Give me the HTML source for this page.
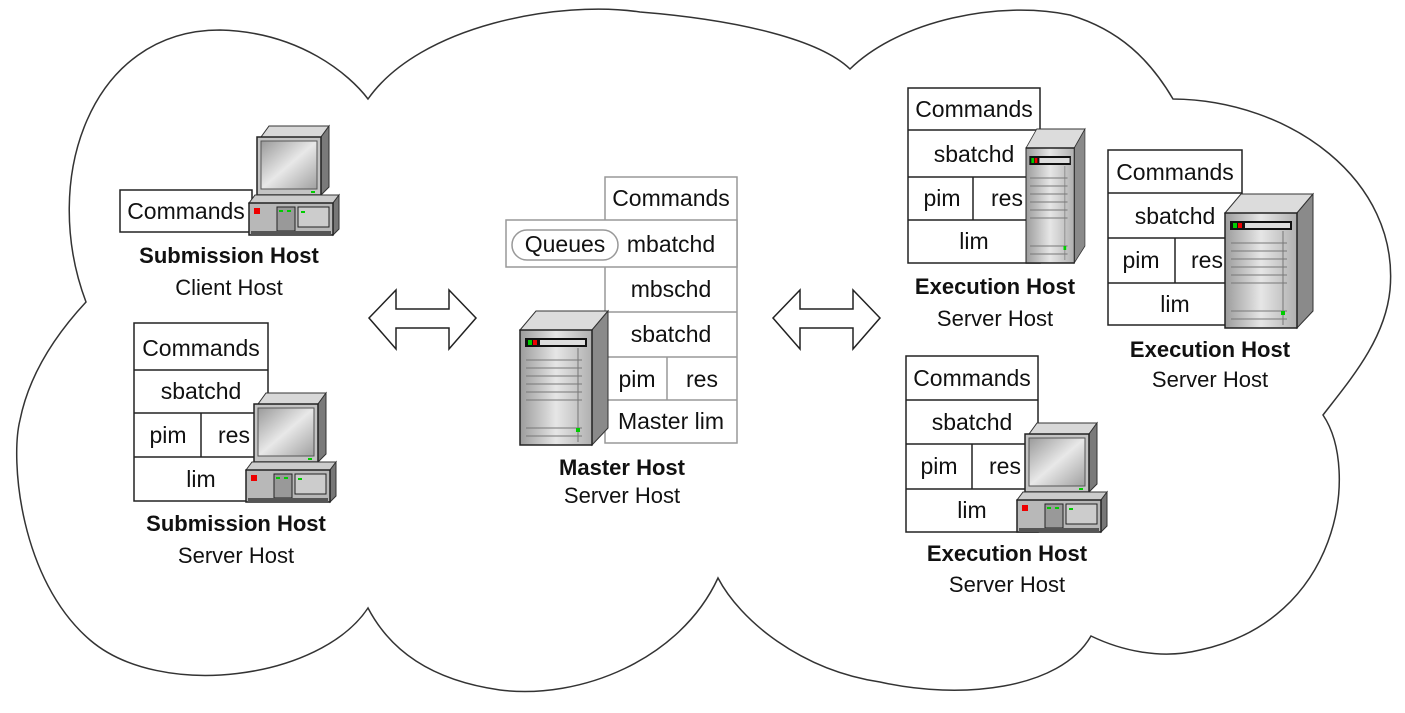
<!DOCTYPE html>
<html><head><meta charset="utf-8"><style>
html,body{margin:0;padding:0;background:#fff;}
svg{display:block;}
text{font-family:"Liberation Sans",Arial,sans-serif;fill:#111;}
.t{font-size:23px;text-anchor:middle;}
.lb{font-size:22px;font-weight:bold;text-anchor:middle;}
.ln{font-size:22px;text-anchor:middle;}
</style></head><body>
<svg width="1405" height="713" viewBox="0 0 1405 713" xmlns="http://www.w3.org/2000/svg">
<defs>
<linearGradient id="scr" x1="0" y1="0" x2="1" y2="1"><stop offset="0" stop-color="#9a9a9a"/><stop offset="0.5" stop-color="#e8e8e8"/><stop offset="1" stop-color="#a0a0a0"/></linearGradient>
<linearGradient id="tw" x1="0" y1="0" x2="1" y2="0"><stop offset="0" stop-color="#9c9c9c"/><stop offset="0.5" stop-color="#e6e6e6"/><stop offset="1" stop-color="#b0b0b0"/></linearGradient>
<g id="pc">
<polygon points="12,12 20,1 80,1 72,12" fill="#d8d8d8" stroke="#333"/>
<polygon points="72,12 80,1 80,62 72,70" fill="#7a7a7a" stroke="#333"/>
<rect x="8" y="12" width="64" height="58" fill="#c4c4c4" stroke="#222" stroke-width="1.5"/>
<rect x="12" y="16" width="56" height="48" fill="url(#scr)" stroke="#555"/>
<rect x="62" y="66" width="4" height="2" fill="#0c0"/>
<polygon points="0,78 6,70 90,70 84,78" fill="#ccc" stroke="#333"/>
<polygon points="84,78 90,70 90,104 84,110" fill="#777" stroke="#333"/>
<rect x="0" y="78" width="84" height="32" fill="#b8b8b8" stroke="#222" stroke-width="1.5"/>
<rect x="5" y="83" width="6" height="6" fill="#e00"/>
<rect x="28" y="82" width="18" height="24" fill="#999" stroke="#222"/>
<rect x="30" y="85" width="4" height="2" fill="#0c0"/><rect x="38" y="85" width="4" height="2" fill="#0c0"/>
<rect x="49" y="82" width="31" height="20" fill="#ccc" stroke="#222"/>
<rect x="52" y="86" width="4" height="2" fill="#0c0"/>
<rect x="2" y="106" width="80" height="4" fill="#555"/>
</g>
<g id="tower">
<polygon points="0,20 16,1 88,1 72,20" fill="#dcdcdc" stroke="#333"/>
<polygon points="72,20 88,1 88,118 72,135" fill="#8a8a8a" stroke="#333"/>
<rect x="0" y="20" width="72" height="115" fill="url(#tw)" stroke="#222" stroke-width="1.5"/>
<rect x="5" y="28" width="62" height="9" fill="#111"/>
<rect x="20" y="30" width="45" height="5" fill="#ddd"/>
<rect x="8" y="30" width="4" height="5" fill="#0c0"/><rect x="13" y="30" width="4" height="5" fill="#e00"/>
<g stroke="#777"><line x1="6" y1="50" x2="62" y2="50"/><line x1="6" y1="58" x2="62" y2="58"/><line x1="6" y1="66" x2="62" y2="66"/><line x1="6" y1="74" x2="62" y2="74"/><line x1="6" y1="82" x2="62" y2="82"/><line x1="6" y1="90" x2="62" y2="90"/><line x1="6" y1="118" x2="62" y2="118"/><line x1="6" y1="126" x2="62" y2="126"/><line x1="58" y1="38" x2="58" y2="132"/></g>
<rect x="56" y="118" width="4" height="4" fill="#0c0"/>
</g>
<g id="arrow">
<polygon points="0,28 27,0 27,19 80,19 80,0 107,28 80,59 80,38 27,38 27,59" fill="#fff" stroke="#222" stroke-width="1.5"/>
</g>
</defs>

<path d="M86,302 C40,180 90,30 220,30 C300,32 350,75 368,99 C420,25 560,0 640,12 C740,20 820,40 850,69 C900,20 1000,0 1070,15 C1120,30 1150,60 1173,99 C1290,100 1400,180 1390,290 C1385,340 1350,380 1323,415 C1360,470 1340,620 1200,650 C1160,660 1120,650 1091,636 C1060,690 960,700 880,682 C800,670 740,620 718,578 C680,660 580,700 500,690 C430,680 390,650 368,608 C320,680 160,700 90,640 C20,580 10,460 20,420 C30,370 60,330 86,302 Z" fill="#fff" stroke="#333" stroke-width="1.5"/>

<use href="#arrow" x="369" y="290"/>
<use href="#arrow" x="773" y="290"/>

<rect x="120" y="190" width="132" height="42" fill="#fff" stroke="#222" stroke-width="1.5"/>
<text class="t" x="186" y="219">Commands</text>
<use href="#pc" x="249" y="125"/>
<text class="lb" x="229" y="263">Submission Host</text>
<text class="ln" x="229" y="295">Client Host</text>

<g fill="#fff" stroke="#222" stroke-width="1.5">
<rect x="134" y="323" width="134" height="178"/>
<line x1="134" y1="370" x2="268" y2="370"/><line x1="134" y1="413" x2="268" y2="413"/><line x1="134" y1="457" x2="268" y2="457"/><line x1="201" y1="413" x2="201" y2="457"/>
</g>
<text class="t" x="201" y="356">Commands</text>
<text class="t" x="201" y="399">sbatchd</text>
<text class="t" x="168" y="443">pim</text>
<text class="t" x="234" y="443">res</text>
<text class="t" x="201" y="487">lim</text>
<use href="#pc" x="246" y="392"/>
<text class="lb" x="236" y="531">Submission Host</text>
<text class="ln" x="236" y="563">Server Host</text>

<g fill="#fff" stroke="#999" stroke-width="1.5">
<rect x="605" y="177" width="132" height="266"/>
<rect x="506" y="220" width="231" height="47"/>
<line x1="605" y1="312" x2="737" y2="312"/><line x1="605" y1="357" x2="737" y2="357"/><line x1="605" y1="400" x2="737" y2="400"/><line x1="667" y1="357" x2="667" y2="400"/>
<rect x="512" y="230" width="106" height="30" rx="15"/>
</g>
<text class="t" x="671" y="206">Commands</text>
<text class="t" x="565" y="252">Queues</text>
<text class="t" x="671" y="252">mbatchd</text>
<text class="t" x="671" y="297">mbschd</text>
<text class="t" x="671" y="342">sbatchd</text>
<text class="t" x="637" y="387">pim</text>
<text class="t" x="702" y="387">res</text>
<text class="t" x="671" y="429">Master lim</text>
<use href="#tower" x="520" y="310"/>
<text class="lb" x="622" y="475">Master Host</text>
<text class="ln" x="622" y="503">Server Host</text>

<g fill="#fff" stroke="#222" stroke-width="1.5">
<rect x="908" y="88" width="132" height="175"/>
<line x1="908" y1="130" x2="1040" y2="130"/><line x1="908" y1="177" x2="1040" y2="177"/><line x1="908" y1="220" x2="1040" y2="220"/><line x1="973" y1="177" x2="973" y2="220"/>
</g>
<text class="t" x="974" y="117">Commands</text>
<text class="t" x="974" y="162">sbatchd</text>
<text class="t" x="942" y="206">pim</text>
<text class="t" x="1007" y="206">res</text>
<text class="t" x="974" y="249">lim</text>
<g transform="translate(1026,128) scale(0.67,1)"><use href="#tower"/></g>
<text class="lb" x="995" y="294">Execution Host</text>
<text class="ln" x="995" y="326">Server Host</text>

<g fill="#fff" stroke="#222" stroke-width="1.5">
<rect x="1108" y="150" width="134" height="175"/>
<line x1="1108" y1="193" x2="1242" y2="193"/><line x1="1108" y1="238" x2="1242" y2="238"/><line x1="1108" y1="283" x2="1242" y2="283"/><line x1="1175" y1="238" x2="1175" y2="283"/>
</g>
<text class="t" x="1175" y="180">Commands</text>
<text class="t" x="1175" y="224">sbatchd</text>
<text class="t" x="1141" y="268">pim</text>
<text class="t" x="1207" y="268">res</text>
<text class="t" x="1175" y="312">lim</text>
<use href="#tower" x="1225" y="193"/>
<text class="lb" x="1210" y="357">Execution Host</text>
<text class="ln" x="1210" y="387">Server Host</text>

<g fill="#fff" stroke="#222" stroke-width="1.5">
<rect x="906" y="356" width="132" height="176"/>
<line x1="906" y1="400" x2="1038" y2="400"/><line x1="906" y1="444" x2="1038" y2="444"/><line x1="906" y1="489" x2="1038" y2="489"/><line x1="972" y1="444" x2="972" y2="489"/>
</g>
<text class="t" x="972" y="386">Commands</text>
<text class="t" x="972" y="430">sbatchd</text>
<text class="t" x="939" y="474">pim</text>
<text class="t" x="1005" y="474">res</text>
<text class="t" x="972" y="518">lim</text>
<use href="#pc" x="1017" y="422"/>
<text class="lb" x="1007" y="561">Execution Host</text>
<text class="ln" x="1007" y="592">Server Host</text>
</svg>
</body></html>
